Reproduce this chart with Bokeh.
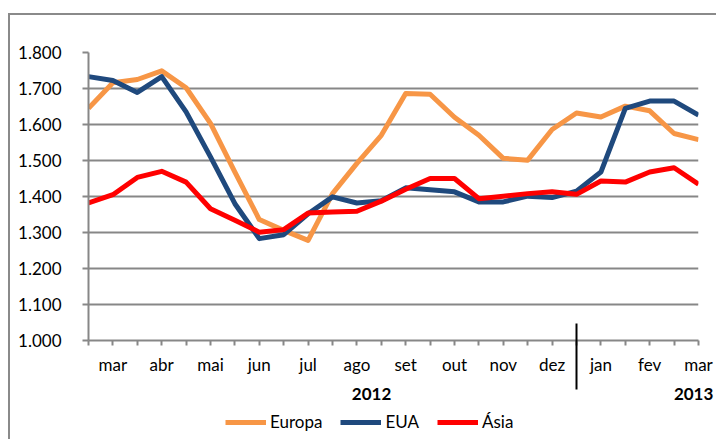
from bokeh.plotting import figure
from bokeh.layouts import column
from bokeh.models import Range1d, FixedTicker, Legend, LegendItem, LinearAxis
from bokeh.embed import file_html
from bokeh.resources import INLINE

# ---- data ----
months = ["", "mar", "", "abr", "", "mai", "", "jun", "", "jul", "", "ago", "",
          "set", "", "out", "", "nov", "", "dez", "", "jan", "", "fev", "", "mar"]
years = ["2012", "2013"]
europa = [1645, 1716, 1725, 1749, 1702, 1603, 1468, 1336, 1306, 1278, 1408, 1492, 1570,
          1686, 1684, 1620, 1570, 1506, 1501, 1586, 1632, 1621, 1651, 1638, 1575, 1558]
eua = [1733, 1722, 1689, 1733, 1635, 1510, 1380, 1283, 1294, 1352, 1399, 1382, 1388,
       1424, 1419, 1413, 1385, 1385, 1401, 1397, 1415, 1468, 1645, 1665, 1665, 1626]
asia = [1382, 1405, 1453, 1470, 1440, 1366, 1334, 1301, 1308, 1354, 1357, 1359, 1387,
        1420, 1450, 1450, 1394, 1401, 1408, 1413, 1406, 1443, 1440, 1468, 1480, 1434]
series_names = ["Europa", "EUA", "Ásia"]
series_colors = ["#F79646", "#1F497D", "#FF0000"]
y_ticks = [1000, 1100, 1200, 1300, 1400, 1500, 1600, 1700, 1800]
y_tick_labels = ["1.000", "1.100", "1.200", "1.300", "1.400", "1.500", "1.600", "1.700", "1.800"]

x = list(range(len(months)))
series = [europa, eua, asia]

# layout constants (placement of the year row labels)
YEAR_LABEL_POS = [11.6, 24.8]
div_x = months.index("jan") - 1   # boundary between dez and jan

FONT = "Lato"
GRAY = "#878787"
BORDER = "#8a8a8a"
W = 716
LW = 5

p = figure(width=W, height=409, output_backend="svg", toolbar_location=None,
           x_range=Range1d(0, len(months) - 1), y_range=Range1d(y_ticks[0], y_ticks[-1]),
           min_border_left=88, min_border_right=18, min_border_top=52, min_border_bottom=69)
p.outline_line_color = None
p.background_fill_color = "white"
p.border_fill_alpha = 0
p.styles = {
    "background": ("linear-gradient(%s,%s) 8px 13px / 2px 100%% no-repeat, "
                   "linear-gradient(%s,%s) 8px 13px / 100%% 2px no-repeat, white")
    % (BORDER, BORDER, BORDER, BORDER)
}

# grid
p.xgrid.grid_line_color = None
p.ygrid.grid_line_color = GRAY
p.ygrid.grid_line_width = 2
p.ygrid.ticker = FixedTicker(ticks=y_ticks)

# axes
p.yaxis.ticker = FixedTicker(ticks=y_ticks)
p.yaxis.major_label_overrides = dict(zip(y_ticks, y_tick_labels))
p.xaxis.ticker = FixedTicker(ticks=x)
p.xaxis.major_label_overrides = dict(zip(x, months))

for ax in (p.xaxis, p.yaxis):
    ax.axis_line_color = GRAY
    ax.axis_line_width = 2
    ax.major_tick_line_color = GRAY
    ax.major_tick_line_width = 2
    ax.major_tick_in = 0
    ax.minor_tick_line_color = None
    ax.major_label_text_font = FONT
    ax.major_label_text_font_size = "17px"
    ax.major_label_text_color = "#000000"
p.yaxis.major_tick_out = 6
p.yaxis.major_label_standoff = 21
p.xaxis.major_tick_out = 5
p.xaxis.major_label_standoff = 8

# lines
for ys, col in zip(series, series_colors):
    p.line(x, ys, line_color=col, line_width=LW, line_join="round")

# year row (second category level) with the year divider as a minor tick
year_axis = LinearAxis(ticker=FixedTicker(ticks=YEAR_LABEL_POS, minor_ticks=[div_x]),
                       major_label_overrides=dict(zip(YEAR_LABEL_POS, years)),
                       axis_line_color=None, major_tick_line_color=None,
                       major_tick_in=0, major_tick_out=0,
                       minor_tick_line_color="black", minor_tick_line_width=2,
                       minor_tick_in=54, minor_tick_out=12,
                       major_label_standoff=-2, major_label_text_font=FONT,
                       major_label_text_font_size="17px", major_label_text_font_style="bold",
                       major_label_text_color="black")
p.add_layout(year_axis, "below")

# legend strip below the chart (its frame is aligned with the chart's frame)
lg = figure(width=W, height=30, output_backend="svg", toolbar_location=None,
            x_range=Range1d(0, 1), y_range=Range1d(0, 1),
            min_border_left=0, min_border_right=0, min_border_top=0, min_border_bottom=0,
            x_axis_type=None, y_axis_type=None)
lg.outline_line_color = None
lg.xgrid.visible = False
lg.ygrid.visible = False
lg.background_fill_alpha = 0
lg.border_fill_alpha = 0
lg.styles = {"background": "linear-gradient(%s,%s) 8px 0px / 2px 100%% no-repeat, white"
             % (BORDER, BORDER)}
items = []
for name, ys, col in zip(series_names, series, series_colors):
    # same series, drawn outside this strip's range: only the legend swatch shows
    r = lg.line(x, ys, line_color=col, line_width=LW)
    items.append(LegendItem(label=name, renderers=[r]))
legend = Legend(items=items, orientation="horizontal", location=(137, 7),
                glyph_width=41, glyph_height=20, label_height=20, label_standoff=4,
                spacing=18, padding=0, margin=0,
                label_text_font=FONT, label_text_font_size="17px", label_text_color="black",
                border_line_color=None, background_fill_alpha=0)
lg.add_layout(legend)

layout = column(p, lg, spacing=0)
open("out.html", "w").write(file_html(layout, INLINE))
